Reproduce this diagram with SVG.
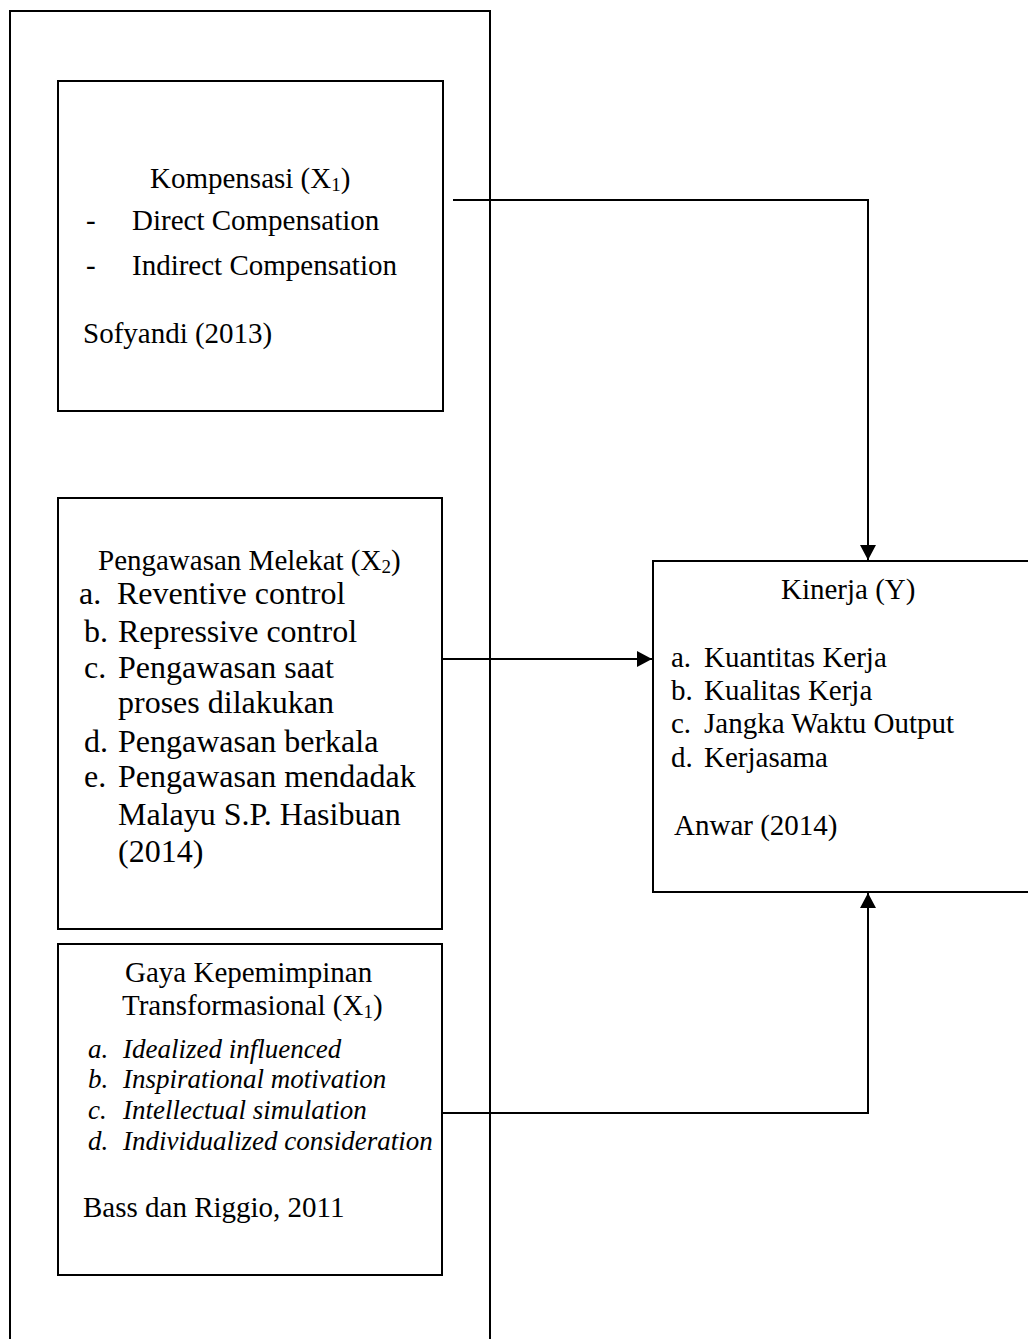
<svg xmlns="http://www.w3.org/2000/svg" width="1028" height="1339" viewBox="0 0 1028 1339">
<style>
.box{fill:none;stroke:#000;stroke-width:2}
.ln{fill:none;stroke:#000;stroke-width:2}
text{font-family:"Liberation Serif","Times New Roman",serif;fill:#000}
.t29{font-size:29px}
.t32{font-size:32px}
.it{font-size:27px;font-style:italic}
</style>
<defs>
<marker id="arr" markerUnits="userSpaceOnUse" markerWidth="16" markerHeight="16" refX="15" refY="8" orient="auto">
<path d="M0,0 L15,8 L0,16 Z" fill="#000"/>
</marker>
</defs>
<rect width="1028" height="1339" fill="#fff"/>
<g id="outer">
<path class="box" d="M10,1345 V11 H490 V1345"/>
</g>
<g id="kompensasi">
<rect class="box" x="58" y="81" width="385" height="330"/>
<text class="t29" x="150" y="188">Kompensasi (X<tspan font-size="19" dy="3">1</tspan><tspan dy="-3">)</tspan></text>
<text class="t29" x="86" y="230">-</text>
<text class="t29" x="132" y="230">Direct Compensation</text>
<text class="t29" x="86" y="275">-</text>
<text class="t29" x="132" y="275">Indirect Compensation</text>
<text class="t29" x="83" y="343">Sofyandi (2013)</text>
</g>
<g id="pengawasan">
<rect class="box" x="58" y="498" width="384" height="431"/>
<text class="t29" x="98" y="570">Pengawasan Melekat (X<tspan font-size="19" dy="3">2</tspan><tspan dy="-3">)</tspan></text>
<text class="t32" x="79" y="604">a.</text>
<text class="t32" x="117" y="604">Reventive control</text>
<text class="t32" x="84" y="642">b.</text>
<text class="t32" x="118" y="642">Repressive control</text>
<text class="t32" x="84" y="678">c.</text>
<text class="t32" x="118" y="678">Pengawasan saat</text>
<text class="t32" x="118" y="713">proses dilakukan</text>
<text class="t32" x="84" y="752">d.</text>
<text class="t32" x="118" y="752">Pengawasan berkala</text>
<text class="t32" x="84" y="787">e.</text>
<text class="t32" x="118" y="787">Pengawasan mendadak</text>
<text class="t32" x="118" y="825">Malayu S.P. Hasibuan</text>
<text class="t32" x="118" y="862">(2014)</text>
</g>
<g id="gaya">
<rect class="box" x="58" y="944" width="384" height="331"/>
<text class="t29" x="125" y="982">Gaya Kepemimpinan</text>
<text class="t29" x="122" y="1015">Transformasional (X<tspan font-size="19" dy="3">1</tspan><tspan dy="-3">)</tspan></text>
<text class="it" x="88" y="1058">a.</text>
<text class="it" x="123" y="1058">Idealized influenced</text>
<text class="it" x="88" y="1088">b.</text>
<text class="it" x="123" y="1088">Inspirational motivation</text>
<text class="it" x="88" y="1119">c.</text>
<text class="it" x="123" y="1119">Intellectual simulation</text>
<text class="it" x="88" y="1150">d.</text>
<text class="it" x="123" y="1150">Individualized consideration</text>
<text class="t29" x="83" y="1217">Bass dan Riggio, 2011</text>
</g>
<g id="kinerja">
<rect class="box" x="653" y="561" width="400" height="331"/>
<text class="t29" x="781" y="599">Kinerja (Y)</text>
<text class="t29" x="671" y="667">a.</text>
<text class="t29" x="704" y="667">Kuantitas Kerja</text>
<text class="t29" x="671" y="700">b.</text>
<text class="t29" x="704" y="700">Kualitas Kerja</text>
<text class="t29" x="671" y="733">c.</text>
<text class="t29" x="704" y="733">Jangka Waktu Output</text>
<text class="t29" x="671" y="767">d.</text>
<text class="t29" x="704" y="767">Kerjasama</text>
<text class="t29" x="674" y="835">Anwar (2014)</text>
</g>
<g id="connectors">
<path class="ln" d="M453,200 H868 V560" marker-end="url(#arr)"/>
<path class="ln" d="M442,659 H652" marker-end="url(#arr)"/>
<path class="ln" d="M442,1113 H868 V893" marker-end="url(#arr)"/>
</g>
</svg>
